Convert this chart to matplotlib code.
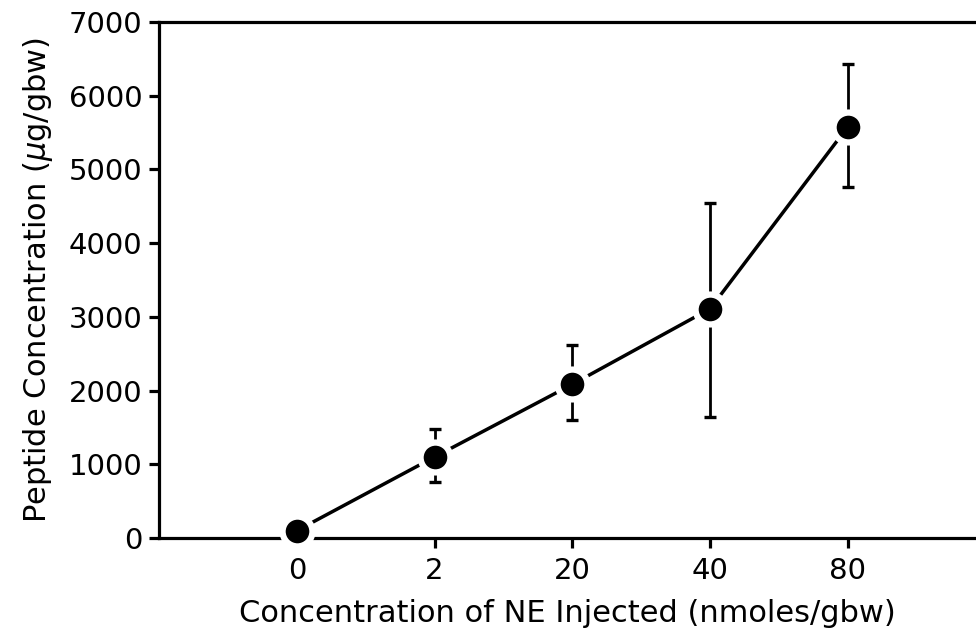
import matplotlib.pyplot as plt

doses = ['0', '2', '20', '40', '80']
peptide = [100, 1100, 2085, 3110, 5580]
err_low = [0, 340, 485, 1465, 820]
err_high = [0, 375, 530, 1430, 850]

plt.rcParams['font.family'] = ['DejaVu Sans']
plt.rcParams['mathtext.fontset'] = 'dejavusans'

fig = plt.figure(figsize=(9.76, 6.34), dpi=100)
ax = fig.add_axes([0.163, 0.1514, 0.837, 0.8139])

xpos = [i + 1 for i in range(len(doses))]

# line first, then error bars, then markers with a white rim on top
ax.plot(xpos, peptide, color='black', lw=2.5, zorder=2, clip_on=False)
ax.errorbar(xpos, peptide, yerr=[err_low, err_high], fmt='none', ecolor='black',
            elinewidth=2.0, capsize=4.5, capthick=2.4, zorder=2)
ax.plot(xpos, peptide, 'o', color='black', markersize=21.5, markeredgecolor='white',
        markeredgewidth=4.5, zorder=3, clip_on=False)

ax.set_xlim(0, 5.93)
ax.set_ylim(0, 7000)
ax.set_xticks(xpos)
ax.set_xticklabels(doses)
ax.set_yticks(range(0, 7001, 1000))

ax.spines['right'].set_visible(False)
for s in ['left', 'bottom', 'top']:
    ax.spines[s].set_linewidth(2.3)
ax.tick_params(axis='both', direction='out', length=7, width=2.3, labelsize=21, pad=7)
ax.tick_params(axis='y', pad=5)

ax.set_xlabel('Concentration of NE Injected (nmoles/gbw)', fontsize=22, labelpad=10)
ax.set_ylabel(r'Peptide Concentration ($\mu$g/gbw)', fontsize=22, labelpad=10)

fig.savefig('out.png', dpi=100)
